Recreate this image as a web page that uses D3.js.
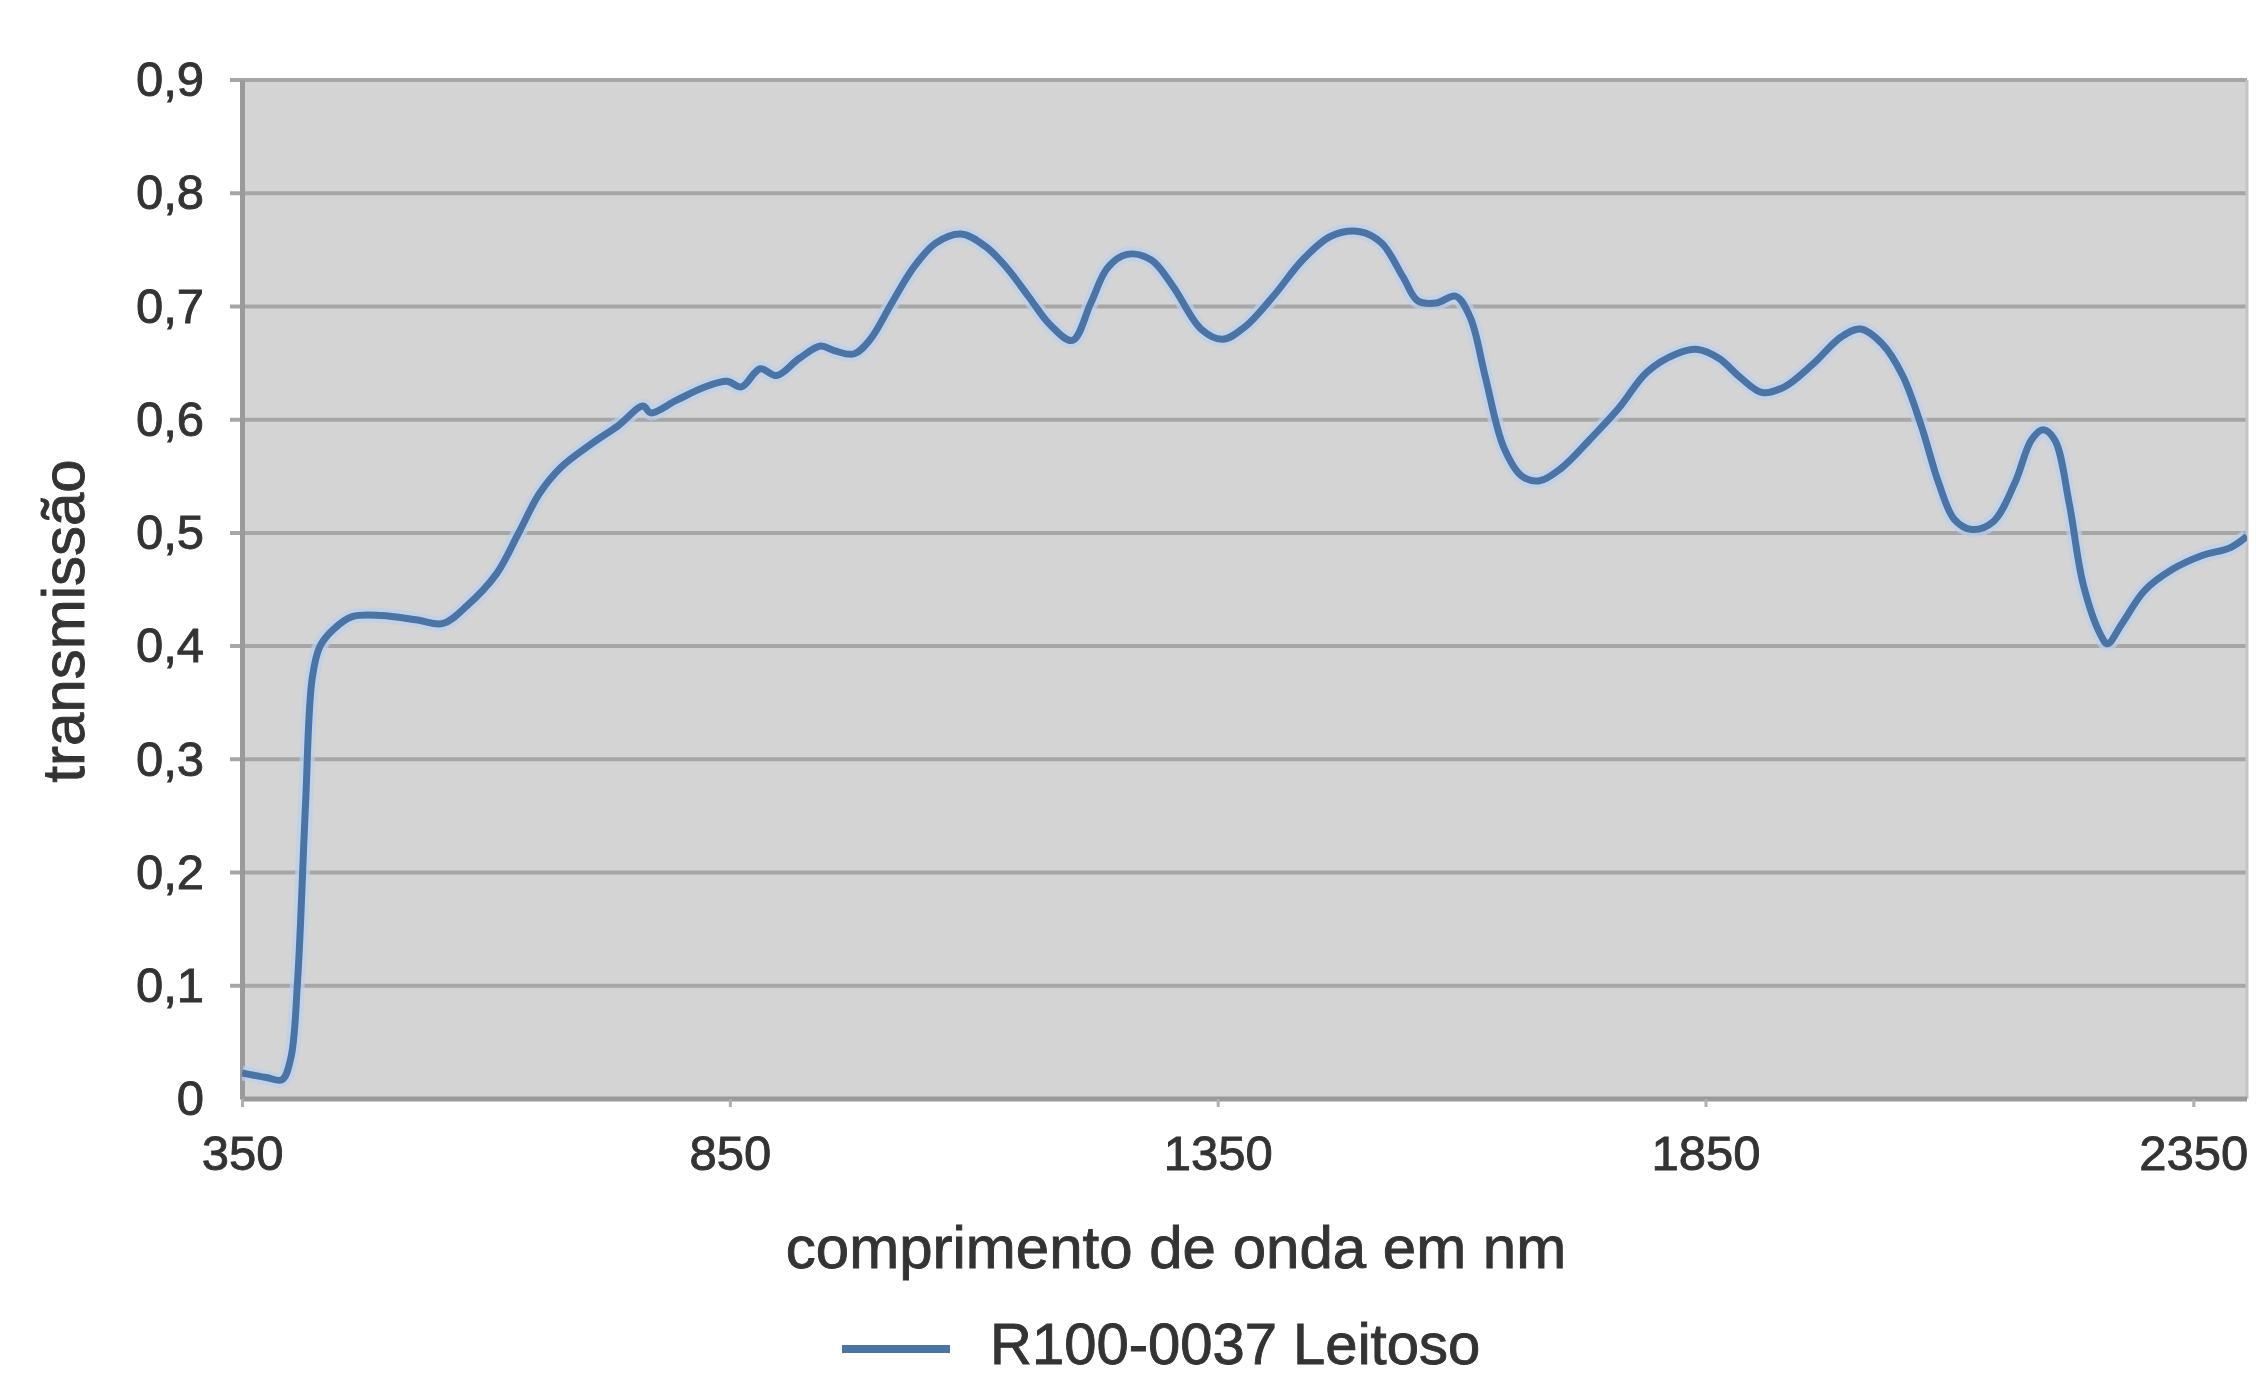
<!DOCTYPE html>
<html><head><meta charset="utf-8">
<script src="https://cdn.jsdelivr.net/npm/d3@7/dist/d3.min.js"></script>
<style>html,body{margin:0;padding:0;background:#fff;}svg{display:block;}</style>
</head><body>
<svg id="chart" width="2256" height="1379"></svg>
<script>
const wavelengths = [350,375,391,400,407,415,422,430,444,463,493,530,556,581,611,633,655,677,707,736,761,769,795,825,847,862,881,898,921,943,957,977,994,1016,1038,1061,1087,1112,1134,1156,1178,1201,1220,1237,1257,1282,1304,1333,1355,1378,1407,1437,1466,1496,1518,1540,1555,1574,1594,1609,1624,1643,1662,1680,1702,1731,1761,1790,1820,1842,1864,1886,1908,1931,1960,1989,2009,2031,2052,2071,2089,2105,2123,2145,2167,2184,2196,2208,2223,2237,2255,2262,2277,2300,2329,2359,2388,2405];
const transmission = [0.023,0.019,0.017,0.036,0.105,0.258,0.372,0.400,0.415,0.426,0.427,0.423,0.420,0.436,0.464,0.499,0.535,0.558,0.578,0.595,0.612,0.606,0.617,0.629,0.634,0.629,0.645,0.639,0.654,0.665,0.661,0.658,0.671,0.703,0.734,0.756,0.764,0.753,0.734,0.709,0.684,0.670,0.703,0.734,0.746,0.741,0.718,0.680,0.671,0.682,0.709,0.741,0.762,0.766,0.756,0.726,0.705,0.703,0.709,0.690,0.639,0.576,0.550,0.546,0.557,0.582,0.610,0.642,0.658,0.662,0.654,0.637,0.624,0.629,0.649,0.673,0.680,0.667,0.639,0.595,0.544,0.512,0.503,0.510,0.544,0.582,0.591,0.582,0.525,0.455,0.410,0.402,0.420,0.449,0.468,0.480,0.487,0.497];
const xTicks = [350,850,1350,1850,2350];
const yTicks = [0,0.1,0.2,0.3,0.4,0.5,0.6,0.7,0.8,0.9];
const seriesName = "R100-0037 Leitoso";
const xTitle = "comprimento de onda em nm";
const yTitle = "transmissão";

const svg = d3.select("#chart");
const L = 242, R = 2247, T = 80, B = 1099;
const x = d3.scaleLinear().domain([350, 2405]).range([L, R]);
const y = d3.scaleLinear().domain([0, 0.9]).range([B, T]);
const font = "'Liberation Sans', Arial, sans-serif";
const txt = "#333";

function styleText(sel, size) {
  sel.attr("font-family", font).attr("font-size", size).attr("fill", txt)
    .attr("stroke", txt).attr("stroke-width", 0.9).attr("paint-order", "stroke");
}

svg.append("rect").attr("x", L).attr("y", T).attr("width", R - L).attr("height", B - T).attr("fill", "#d4d4d4");

// grid lines
svg.append("g").selectAll("line").data(yTicks.filter(d => d > 0)).join("line")
  .attr("x1", L - 12).attr("x2", R).attr("y1", d => y(d)).attr("y2", d => y(d))
  .attr("stroke", "#a6a6a6").attr("stroke-width", 4);

// right border
svg.append("line").attr("x1", R).attr("x2", R).attr("y1", T).attr("y2", B).attr("stroke", "#c4c4c4").attr("stroke-width", 3);

// y axis
const yAxis = d3.axisLeft(y).tickValues(yTicks).tickSize(0).tickPadding(38)
  .tickFormat(d => d === 0 ? "0" : d3.format(".1f")(d).replace(".", ","));
const ya = svg.append("g").attr("transform", `translate(${L},0)`).call(yAxis);
ya.select(".domain").attr("stroke", "#9a9a9a").attr("stroke-width", 5);
styleText(ya.selectAll("text"), 49);

// x axis
const xAxis = d3.axisBottom(x).tickValues(xTicks).tickSize(8).tickPadding(28).tickFormat(d3.format("d"));
const xa = svg.append("g").attr("transform", `translate(0,${B})`).call(xAxis);
xa.select(".domain").attr("stroke", "#9a9a9a").attr("stroke-width", 5).attr("d", `M${L},0H${R}`);
xa.selectAll(".tick line").attr("stroke", "#b0b0b0").attr("stroke-width", 3);
styleText(xa.selectAll("text"), 49);

// line
const line = d3.line().x((d, i) => x(wavelengths[i])).y(d => y(d)).curve(d3.curveCatmullRom.alpha(0.5));
svg.append("clipPath").attr("id", "clip").append("rect").attr("x", L).attr("y", T - 10).attr("width", R - L).attr("height", B - T + 10);
svg.append("path").datum(transmission).attr("d", line).attr("fill", "none")
  .attr("stroke", "#bcd0ec").attr("stroke-width", 15).attr("stroke-opacity", 0.7).attr("clip-path", "url(#clip)");
svg.append("path").datum(transmission).attr("d", line).attr("fill", "none")
  .attr("stroke", "#4a73a6").attr("stroke-width", 7).attr("stroke-linejoin", "round").attr("clip-path", "url(#clip)");

// titles
styleText(svg.append("text").attr("x", 1176).attr("y", 1268).attr("text-anchor", "middle").text(xTitle), 60);
styleText(svg.append("text").attr("transform", "translate(84,621) rotate(-90)").attr("text-anchor", "middle").text(yTitle), 60);

// legend
svg.append("line").attr("x1", 842).attr("x2", 950).attr("y1", 1349).attr("y2", 1349)
  .attr("stroke", "#4a73a6").attr("stroke-width", 8);
styleText(svg.append("text").attr("x", 990).attr("y", 1364).text(seriesName), 58);
</script>
</body></html>
